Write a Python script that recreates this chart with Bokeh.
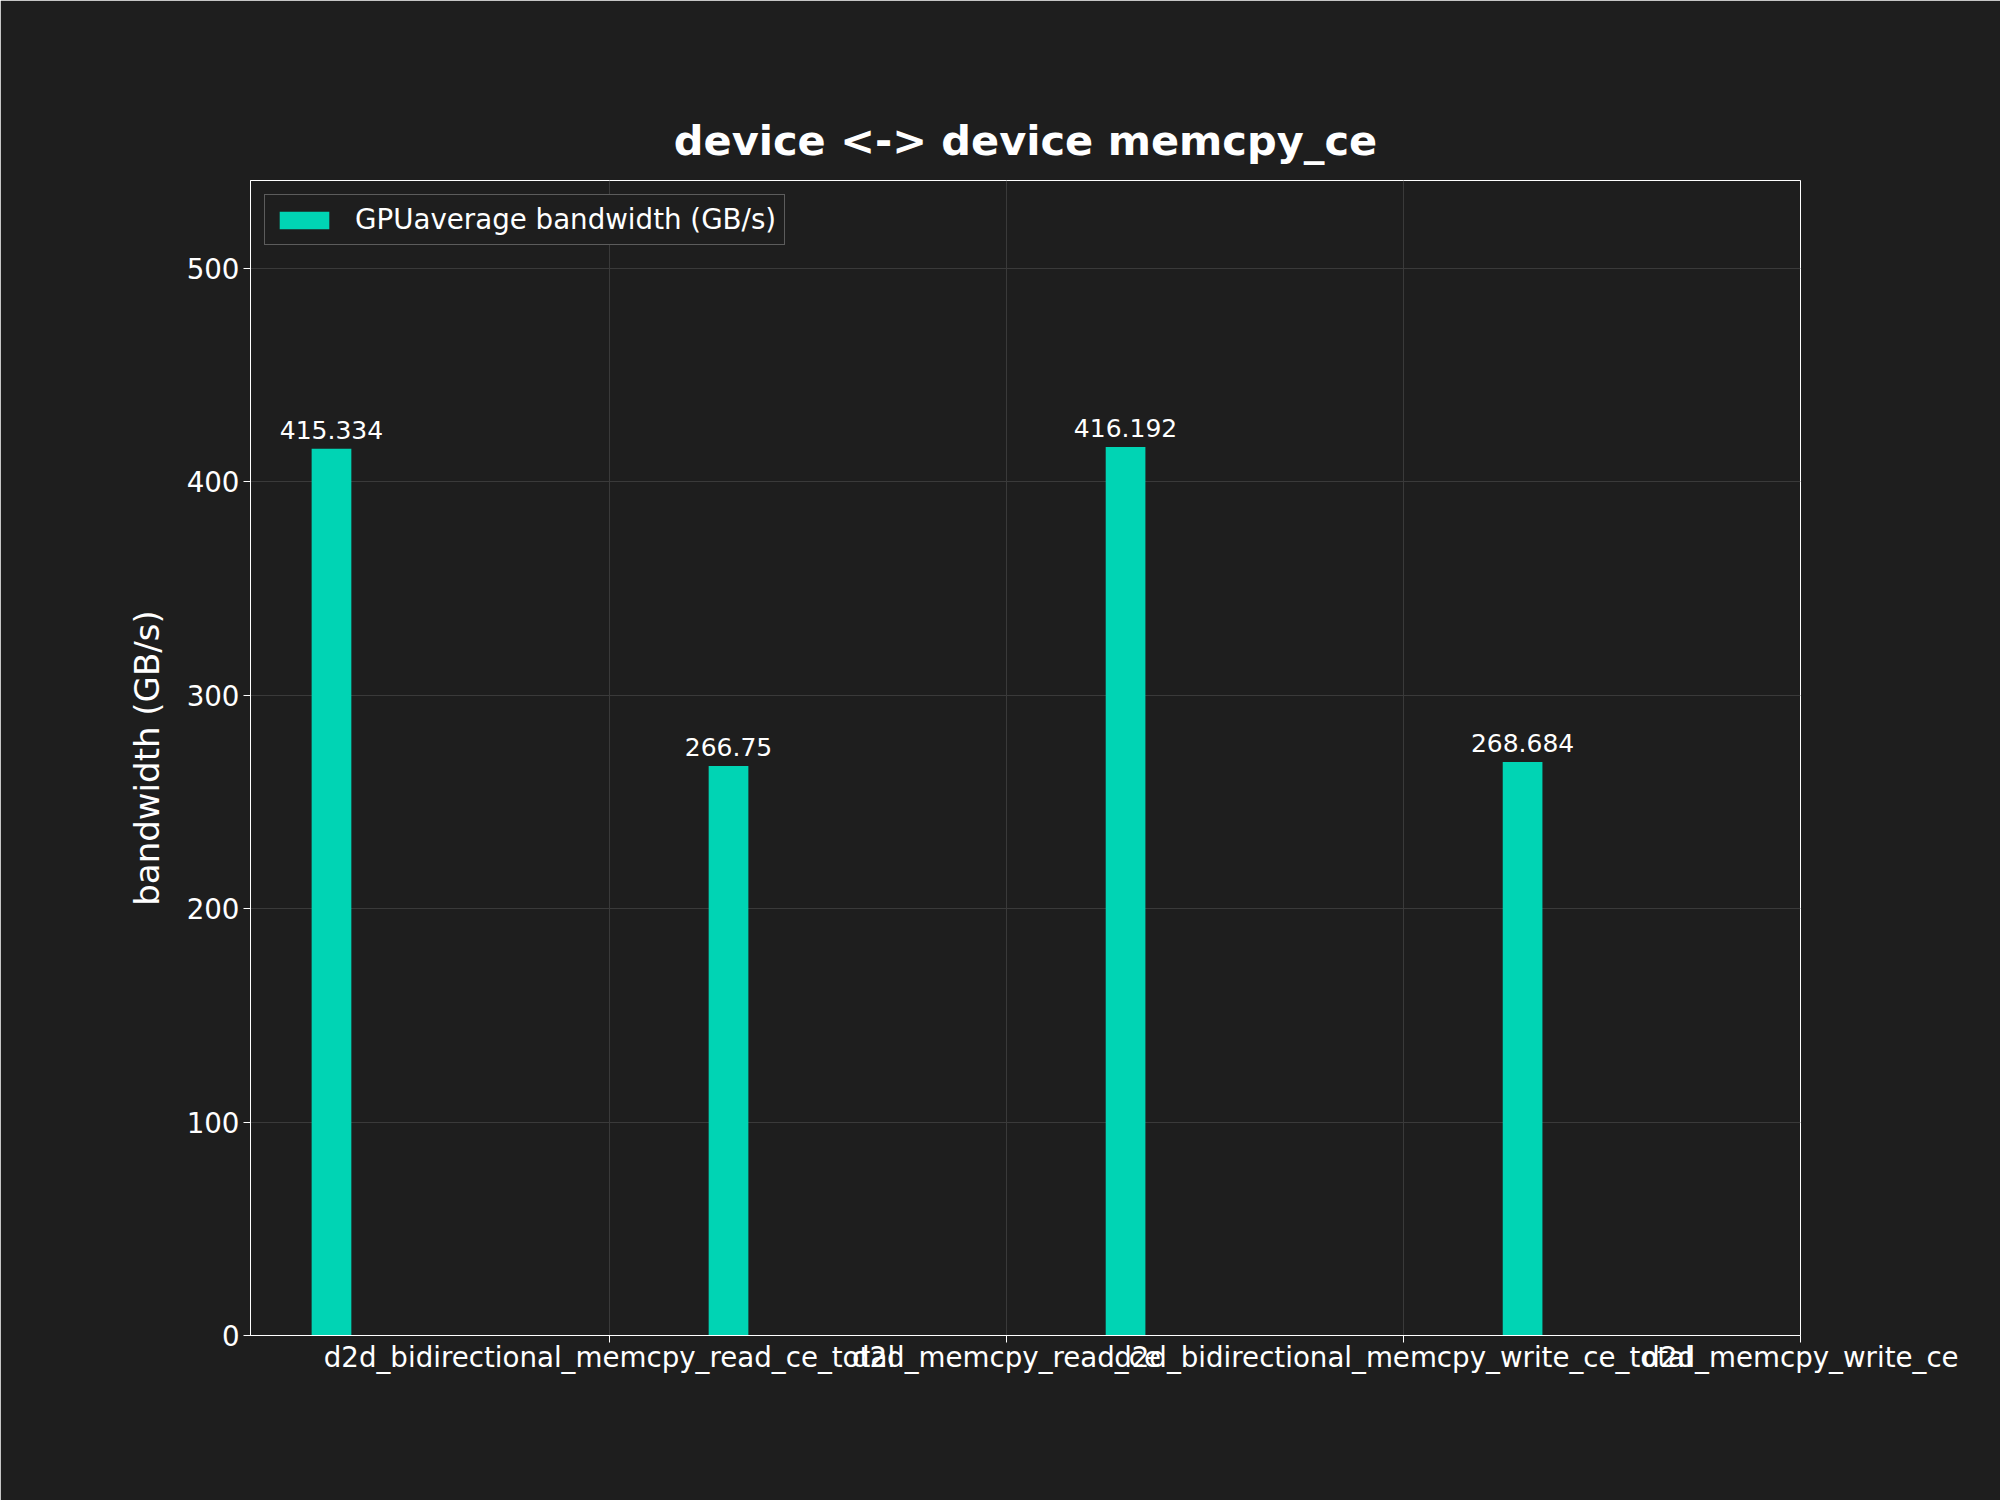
from bokeh.plotting import figure
from bokeh.models import Range1d, FixedTicker, ColumnDataSource, Legend, LegendItem, LabelSet
from bokeh.core.properties import value
from bokeh.embed import file_html
from bokeh.resources import INLINE

# ---- data ----
categories = [
    "d2d_bidirectional_memcpy_read_ce_total",
    "d2d_memcpy_read_ce",
    "d2d_bidirectional_memcpy_write_ce_total",
    "d2d_memcpy_write_ce",
]
bandwidth = [415.334, 266.75, 416.192, 268.684]
series_name = "GPUaverage bandwidth (GB/s)"
y_ticks = [0, 100, 200, 300, 400, 500]

BG = "#1e1e1e"
BAR = "#00d4b4"
FONT = "DejaVu Sans"

idx = list(range(len(categories)))
bar_x = [i - 0.7 for i in idx]
labels = [f"{v:g}" for v in bandwidth]

src = ColumnDataSource(dict(x=bar_x, top=bandwidth, label=labels))

p = figure(
    width=2000, height=1500,
    x_range=Range1d(-0.904, 3.0),
    y_range=Range1d(0, max(bandwidth) * 1.3),
    output_backend="svg", toolbar_location=None,
    min_border_left=250, min_border_right=200,
    min_border_top=180, min_border_bottom=165,
    background_fill_color=BG, border_fill_color=BG,
)

p.title.text = "device <-> device memcpy_ce"
p.title.text_color = "white"
p.title.text_font = FONT
p.title.text_font_size = "41.5px"
p.title.text_font_style = "bold"
p.title.align = "center"
p.title.standoff = 31

r = p.vbar(x="x", top="top", width=0.1, source=src, fill_color=BAR, line_color=None)

lab = LabelSet(x="x", y="top", text="label", source=src, text_align="center",
               text_baseline="bottom", y_offset=10, text_color="white",
               text_font=value(FONT), text_font_size="25px")
p.add_layout(lab)

p.outline_line_color = "white"
p.outline_line_width = 1

# axes
p.xaxis.ticker = FixedTicker(ticks=idx)
p.xaxis.major_label_overrides = {i: c for i, c in zip(idx, categories)}
p.yaxis.ticker = FixedTicker(ticks=y_ticks)
for ax in (p.xaxis[0], p.yaxis[0]):
    ax.axis_line_color = "white"
    ax.axis_line_width = 1
    ax.major_tick_line_color = "white"
    ax.major_tick_out = 7
    ax.major_tick_in = 0
    ax.minor_tick_line_color = None
    ax.major_label_text_color = "white"
    ax.major_label_text_font = FONT
    ax.major_label_text_font_size = "27.7px"
p.xaxis.major_label_standoff = -2
p.yaxis.major_label_standoff = 4
p.yaxis.axis_label = "bandwidth (GB/s)"
p.yaxis.axis_label_text_color = "white"
p.yaxis.axis_label_text_font = FONT
p.yaxis.axis_label_text_font_size = "34px"
p.yaxis.axis_label_text_font_style = "normal"
p.yaxis.axis_label_standoff = 17

p.grid.grid_line_color = "#3a3a3a"
p.grid.grid_line_width = 1

legend = Legend(items=[LegendItem(label=series_name, renderers=[r])],
                location="top_left", margin=14, padding=8, spacing=0,
                glyph_width=62, glyph_height=22, label_standoff=20,
                label_text_font=FONT, label_text_font_size="27.7px",
                label_text_color="white", background_fill_color=BG,
                background_fill_alpha=1.0, border_line_color="#9a9a9a",
                border_line_width=1)
p.add_layout(legend)

open("out.html", "w").write(file_html(p, INLINE))
